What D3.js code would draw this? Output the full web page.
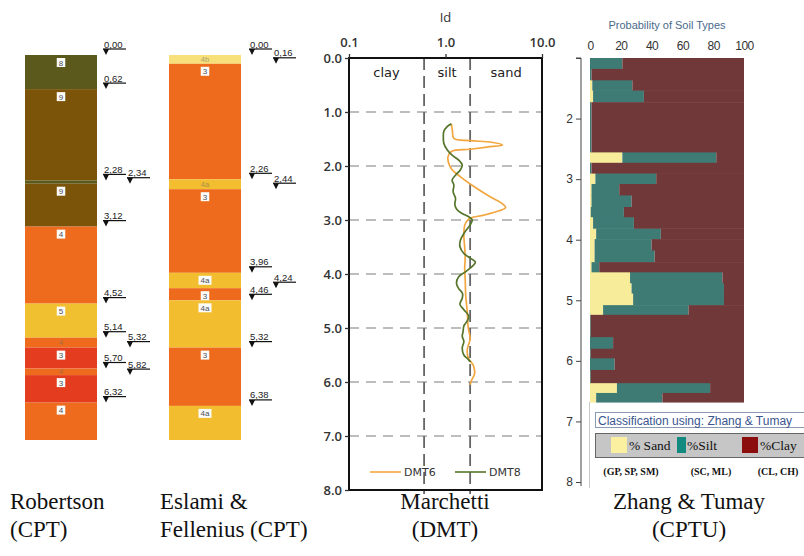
<!DOCTYPE html>
<html>
<head>
<meta charset="utf-8">
<script src="https://cdn.jsdelivr.net/npm/d3@7"></script>
<style>
  body { margin: 0; background: #fff; }
  svg { display: block; }
</style>
</head>
<body>
<svg id="chart" width="804" height="556"></svg>
<script>
// ---- CPT columns: layer top depths (m) and soil zone ----
const robertsonTops = [0.00, 0.62, 2.28, 2.34, 3.12, 4.52, 5.14, 5.32, 5.70, 5.82, 6.32];
const robertsonZones = ['8', '9', '8', '9', '4', '5', '4', '3', '4', '3', '4'];
const eslamiTops = [0.00, 0.16, 2.26, 2.44, 3.96, 4.24, 4.46, 5.32, 6.38];
const eslamiZones = ['4b', '3', '4a', '3', '4a', '3', '4a', '3', '4a'];
const columnBottom = 7.0;

// ---- Marchetti DMT: material index Id vs depth ----
const depthTicks = [0, 1, 2, 3, 4, 5, 6, 7, 8];
const idTicks = [0.1, 1, 10];
const idBounds = [0.6, 1.8];
const idClasses = ['clay', 'silt', 'sand'];
const dmt6Depth = [1.22, 1.35, 1.49, 1.53, 1.56, 1.61, 1.65, 1.69, 1.73, 1.83, 1.95, 2.07, 2.20, 2.38, 2.57, 2.70, 2.77, 2.83, 2.91, 2.96, 3.00, 3.10, 3.30, 3.50, 3.70, 3.90, 4.10, 4.40, 4.70, 5.00, 5.20, 5.40, 5.55, 5.70, 5.85, 5.98, 6.05];
const dmt6Id = [1.15, 1.18, 1.22, 1.8, 3.0, 3.9, 2.7, 1.8, 1.15, 1.06, 1.08, 1.17, 1.43, 1.97, 2.9, 3.9, 4.2, 3.6, 2.5, 1.85, 1.7, 1.58, 1.55, 1.58, 1.6, 1.58, 1.6, 1.62, 1.68, 1.72, 1.8, 1.68, 1.72, 1.95, 2.0, 1.85, 1.8];
const dmt8Depth = [1.22, 1.27, 1.36, 1.46, 1.58, 1.70, 1.80, 1.89, 1.98, 2.07, 2.17, 2.26, 2.35, 2.48, 2.60, 2.72, 2.81, 2.88, 2.94, 3.00, 3.09, 3.25, 3.37, 3.49, 3.62, 3.71, 3.78, 3.86, 3.96, 4.05, 4.17, 4.27, 4.36, 4.45, 4.56, 4.66, 4.78, 4.87, 4.96, 5.07, 5.15, 5.25, 5.37, 5.50, 5.58, 5.63];
const dmt8Id = [1.15, 1.04, 0.96, 0.95, 0.96, 1.04, 1.17, 1.37, 1.49, 1.43, 1.27, 1.17, 1.22, 1.20, 1.27, 1.25, 1.32, 1.49, 1.74, 1.89, 1.80, 1.55, 1.43, 1.41, 1.55, 1.82, 2.04, 1.89, 1.61, 1.37, 1.30, 1.37, 1.50, 1.49, 1.41, 1.55, 1.74, 1.68, 1.55, 1.52, 1.49, 1.55, 1.49, 1.55, 1.72, 1.82];

// ---- Zhang & Tumay CPTU: probability (%) per depth interval ----
const zhangTops = [1.00, 1.18, 1.36, 1.53, 1.73, 2.55, 2.73, 2.90, 3.08, 3.26, 3.46, 3.62, 3.81, 3.99, 4.17, 4.37, 4.53, 4.71, 4.88, 5.08, 5.24, 5.60, 5.80, 5.95, 6.15, 6.36, 6.53];
const zhangBottom = 6.68;
const zhangSand = [0, 0, 1.5, 2, 0, 21, 0, 3.5, 1, 1, 0.5, 2, 4, 3, 3, 1, 26, 27, 28, 8.5, 0, 0, 0, 0, 0, 17.5, 4];
const zhangSilt = [21, 1, 26, 33, 1, 61, 1, 39.5, 18, 26, 21.5, 26.5, 42, 37, 39, 5, 60, 60, 59, 55.5, 0.5, 15, 0.5, 16, 0.5, 60.5, 43];
const zhangXTicks = [0, 20, 40, 60, 80, 100];
const zhangDepthTicks = [1, 2, 3, 4, 5, 6, 7, 8];
const zhangKeys = ['sand', 'silt', 'clay'];
const zhangLegend = ['% Sand', '%Silt', '%Clay'];
const zhangGroups = ['(GP, SP, SM)', '(SC, ML)', '(CL, CH)'];

const svg = d3.select('#chart');
const sans = '"Liberation Sans", Arial, sans-serif';
const serif = '"Liberation Serif", "Times New Roman", serif';

// ================= CPT columns =================
const yCol = d3.scaleLinear().domain([0, columnBottom]).range([55, 440]);
const colW = 72;

const robertsonColors = { '8': '#5b5a1c', '9': '#7b5309', '4': '#ee6a1c', '5': '#f0c030', '3': '#e33c1f' };
const eslamiColors = { '4b': '#f7e07a', '3': '#ee6a1c', '4a': '#f2bd2e' };

function drawColumn(tops, zones, colors, left, markerX) {
  const layers = tops.map((t, i) => ({
    top: t,
    bottom: i < tops.length - 1 ? tops[i + 1] : columnBottom,
    zone: zones[i]
  }));
  const g = svg.append('g');

  g.selectAll('rect.layer').data(layers)
    .enter().append('rect')
    .attr('class', 'layer')
    .attr('x', left)
    .attr('width', colW)
    .attr('y', d => yCol(d.top))
    .attr('height', d => yCol(d.bottom) - yCol(d.top))
    .attr('fill', d => colors[d.zone]);

  layers.forEach(d => {
    const h = yCol(d.bottom) - yCol(d.top);
    const cx = left + colW / 2;
    if (h < 5) return;
    if (h < 12) {
      g.append('text')
        .attr('x', cx)
        .attr('y', (yCol(d.top) + yCol(d.bottom)) / 2 + 2.5)
        .attr('text-anchor', 'middle')
        .attr('font-family', sans)
        .attr('font-size', 7.5)
        .attr('fill', '#6a6a6a')
        .attr('opacity', 0.55)
        .text(d.zone);
    } else {
      const cy = yCol(d.top) + 7.5;
      const w = d.zone.length * 4.5 + 4;
      g.append('rect')
        .attr('x', cx - w / 2).attr('y', cy - 4.5)
        .attr('width', w).attr('height', 9)
        .attr('fill', '#fbfbf8');
      g.append('text')
        .attr('x', cx).attr('y', cy + 3)
        .attr('text-anchor', 'middle')
        .attr('font-family', sans)
        .attr('font-size', 8)
        .attr('fill', '#4a4f5a')
        .text(d.zone);
    }
  });

  // depth markers: triangle + underline + value, staggered when close
  let prev = null, prevCol = 0;
  tops.forEach(t => {
    const col = (prev !== null && t - prev < 0.3 && prevCol === 0) ? 1 : 0;
    const x0 = markerX + col * 24;
    const uy = yCol(t) - 6;
    g.append('line')
      .attr('x1', x0).attr('x2', x0 + 23)
      .attr('y1', uy).attr('y2', uy)
      .attr('stroke', '#111').attr('stroke-width', 1.2);
    g.append('path')
      .attr('d', `M${x0},${uy}L${x0 + 6},${uy}L${x0 + 3},${uy + 6}Z`)
      .attr('fill', '#111');
    g.append('text')
      .attr('x', x0 + 1).attr('y', uy - 1.5)
      .attr('font-family', sans)
      .attr('font-size', 9.5)
      .attr('fill', '#222')
      .text(t.toFixed(2).replace('.', ','));
    prev = t; prevCol = col;
  });
}

drawColumn(robertsonTops, robertsonZones, robertsonColors, 25, 103);
drawColumn(eslamiTops, eslamiZones, eslamiColors, 169, 249);

// ================= Marchetti DMT =================
const mx = d3.scaleLog().domain([0.1, 10]).range([349, 542]);
const my = d3.scaleLinear().domain([0, 8]).range([58, 490]);
const mg = svg.append('g');
const mfont = '"Open Sans", "DejaVu Sans", sans-serif';

mg.selectAll('line.hgrid').data(depthTicks.filter(d => d > 0 && d < 8))
  .enter().append('line')
  .attr('x1', mx(0.1)).attr('x2', mx(10))
  .attr('y1', d => my(d)).attr('y2', d => my(d))
  .attr('stroke', '#a8a8a8').attr('stroke-width', 1.5)
  .attr('stroke-dasharray', '10,7');

mg.selectAll('line.vbound').data(idBounds)
  .enter().append('line')
  .attr('x1', d => mx(d)).attr('x2', d => mx(d))
  .attr('y1', my(0)).attr('y2', my(8) + 4)
  .attr('stroke', '#666').attr('stroke-width', 1.8)
  .attr('stroke-dasharray', '12,6');

const classEdges = [0.1, ...idBounds, 10];
mg.selectAll('text.cls').data(idClasses)
  .enter().append('text')
  .attr('x', (d, i) => (mx(classEdges[i]) + mx(classEdges[i + 1])) / 2)
  .attr('y', 77)
  .attr('text-anchor', 'middle')
  .attr('font-family', '"DejaVu Sans", sans-serif')
  .attr('font-size', 13)
  .attr('fill', '#222')
  .text(d => d);

const dmtLine = d3.line()
  .x(d => mx(d.id))
  .y(d => my(d.depth))
  .curve(d3.curveCatmullRom.alpha(0.5));

const dmt6 = dmt6Depth.map((d, i) => ({ depth: d, id: dmt6Id[i] }));
const dmt8 = dmt8Depth.map((d, i) => ({ depth: d, id: dmt8Id[i] }));

mg.append('path').datum(dmt6)
  .attr('d', dmtLine)
  .attr('fill', 'none').attr('stroke', '#f2a640').attr('stroke-width', 1.7);
mg.append('path').datum(dmt8)
  .attr('d', dmtLine)
  .attr('fill', 'none').attr('stroke', '#55752a').attr('stroke-width', 1.7);

mg.append('rect')
  .attr('x', mx(0.1)).attr('y', my(0))
  .attr('width', mx(10) - mx(0.1)).attr('height', my(8) - my(0))
  .attr('fill', 'none').attr('stroke', '#111').attr('stroke-width', 2);

const mTop = mg.append('g')
  .attr('transform', `translate(0,${my(0)})`)
  .call(d3.axisTop(mx).tickValues(idTicks).tickFormat(d3.format('.1f')).tickSize(4).tickPadding(7));
const mLeft = mg.append('g')
  .attr('transform', `translate(${mx(0.1)},0)`)
  .call(d3.axisLeft(my).tickValues(depthTicks).tickFormat(d3.format('.1f')).tickSize(4).tickPadding(3));
[mTop, mLeft].forEach(a => {
  a.select('.domain').remove();
  a.selectAll('line').attr('stroke', '#333').attr('stroke-width', 1.3);
  a.selectAll('text')
    .attr('font-family', mfont).attr('font-weight', 600)
    .attr('font-size', 13).attr('fill', '#333');
});

mg.append('text')
  .attr('x', mx(1)).attr('y', 22)
  .attr('text-anchor', 'middle')
  .attr('font-family', mfont).attr('font-size', 13).attr('fill', '#333')
  .text('Id');

const dmtLegend = [{ name: 'DMT6', color: '#f2a640', x: 370 }, { name: 'DMT8', color: '#55752a', x: 455 }];
dmtLegend.forEach(l => {
  mg.append('line')
    .attr('x1', l.x).attr('x2', l.x + 31)
    .attr('y1', 472).attr('y2', 472)
    .attr('stroke', l.color).attr('stroke-width', 1.6);
  mg.append('text')
    .attr('x', l.x + 34).attr('y', 476)
    .attr('font-family', '"DejaVu Sans", sans-serif')
    .attr('font-size', 11).attr('fill', '#333')
    .text(l.name);
});

// ================= Zhang & Tumay =================
const zx = d3.scaleLinear().domain([0, 100]).range([590, 744]);
const zy = d3.scaleLinear().domain([1, 8]).range([58, 482]);
const zColors = { sand: '#f6ec9a', silt: '#3f7b75', clay: '#703838' };
const zg = svg.append('g');

const zRows = zhangTops.map((t, i) => ({
  top: t,
  bottom: i < zhangTops.length - 1 ? zhangTops[i + 1] : zhangBottom,
  sand: zhangSand[i],
  silt: zhangSilt[i],
  clay: 100 - zhangSand[i] - zhangSilt[i]
}));
const zStack = d3.stack().keys(zhangKeys)(zRows);

zg.selectAll('g.series').data(zStack)
  .enter().append('g')
  .attr('fill', s => zColors[s.key])
  .selectAll('rect').data(s => s)
  .enter().append('rect')
  .attr('x', d => zx(d[0]))
  .attr('width', d => zx(d[1]) - zx(d[0]))
  .attr('y', d => zy(d.data.top))
  .attr('height', d => zy(d.data.bottom) - zy(d.data.top) + 0.5);

const zTop = zg.append('g')
  .attr('transform', `translate(0,${zy(1)})`)
  .call(d3.axisTop(zx).tickValues(zhangXTicks).tickSize(0).tickPadding(8));
zTop.select('.domain').remove();
zTop.selectAll('text')
  .attr('font-family', sans).attr('font-size', 12).attr('fill', '#333')
  .attr('letter-spacing', -0.5);

const zLeft = zg.append('g')
  .attr('transform', 'translate(581,0)')
  .call(d3.axisLeft(zy).tickValues(zhangDepthTicks).tickSize(5).tickPadding(3)
    .tickFormat(d => d === 1 ? '' : d));
zLeft.select('.domain').attr('d', `M-5,${zy(1)}H0V${zy(8) + 4}`).attr('stroke', '#444');
zLeft.selectAll('line').attr('stroke', '#444');
zLeft.selectAll('text')
  .attr('font-family', sans).attr('font-size', 12).attr('fill', '#333');

zg.append('line')
  .attr('x1', 589.5).attr('x2', 589.5)
  .attr('y1', zy(zhangBottom)).attr('y2', zy(8) + 6)
  .attr('stroke', '#c8c8c8');

zg.append('text')
  .attr('x', 667).attr('y', 29)
  .attr('text-anchor', 'middle')
  .attr('font-family', sans).attr('font-size', 11).attr('fill', '#4a6a8c')
  .text('Probability of Soil Types');

// legend boxes
zg.append('rect')
  .attr('x', 595.5).attr('y', 412.5).attr('width', 220).attr('height', 15)
  .attr('fill', '#fff').attr('stroke', '#8a9ab4');
zg.append('text')
  .attr('x', 598).attr('y', 424.5)
  .attr('font-family', sans).attr('font-size', 12).attr('fill', '#3a5590')
  .text('Classification using: Zhang & Tumay');

zg.append('rect')
  .attr('x', 595.5).attr('y', 433.5).attr('width', 220).attr('height', 24)
  .attr('fill', '#c6c6c6').attr('stroke', '#666');
const legendColors = ['#faf0a0', '#138a80', '#8b0d0d'];
const legendX = [611, 677, 742];
zhangLegend.forEach((name, i) => {
  zg.append('rect')
    .attr('x', legendX[i]).attr('y', 437)
    .attr('width', i === 1 ? 9 : 16).attr('height', 16)
    .attr('fill', legendColors[i]);
  zg.append('text')
    .attr('x', legendX[i] + (i === 1 ? 10 : 18)).attr('y', 450)
    .attr('font-family', serif).attr('font-size', 13.5).attr('fill', '#111')
    .text(name);
});
const groupX = [631, 711, 778];
zhangGroups.forEach((name, i) => {
  zg.append('text')
    .attr('x', groupX[i]).attr('y', 475)
    .attr('text-anchor', 'middle')
    .attr('font-family', serif).attr('font-size', 10).attr('font-weight', 'bold')
    .attr('fill', '#111')
    .text(name);
});

// ================= titles =================
const titles = [
  { lines: ['Robertson', '(CPT)'], x: 10, anchor: 'start' },
  { lines: ['Eslami &', 'Fellenius (CPT)'], x: 160, anchor: 'start' },
  { lines: ['Marchetti', '(DMT)'], x: 445, anchor: 'middle' },
  { lines: ['Zhang & Tumay', '(CPTU)'], x: 689, anchor: 'middle' }
];
titles.forEach(t => {
  t.lines.forEach((line, i) => {
    svg.append('text')
      .attr('x', t.x).attr('y', 509 + i * 28)
      .attr('text-anchor', t.anchor)
      .attr('font-family', serif).attr('font-size', 23).attr('fill', '#111')
      .text(line);
  });
});
</script>
</body>
</html>
